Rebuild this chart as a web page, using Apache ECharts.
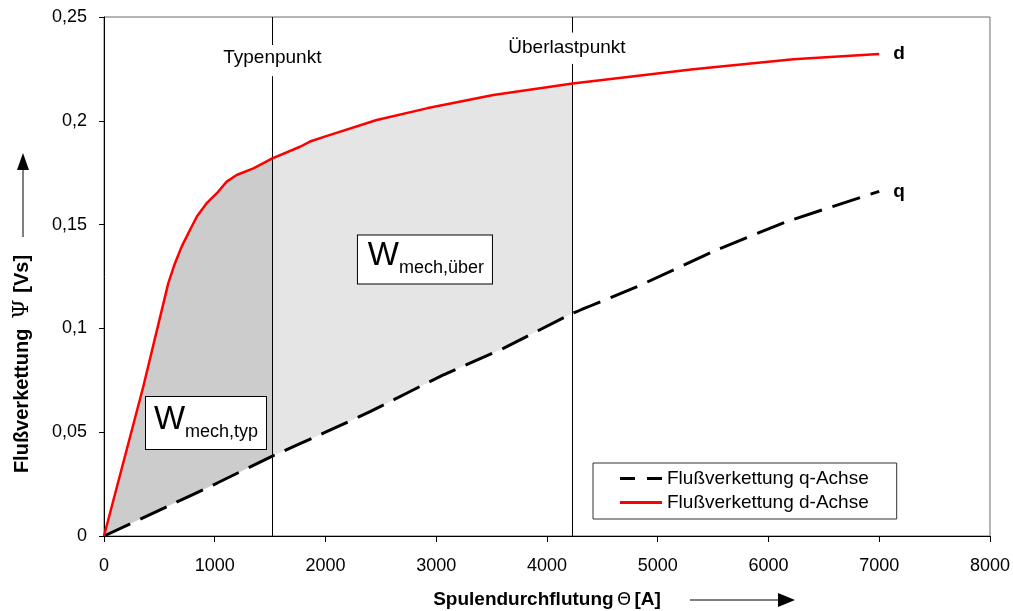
<!DOCTYPE html>
<html>
<head>
<meta charset="utf-8">
<script src="https://cdn.jsdelivr.net/npm/echarts@6/dist/echarts.min.js"></script>
<style>html,body{margin:0;padding:0;background:#fff}#c{width:1013px;height:611px}</style>
</head>
<body>
<div id="c"></div>
<script>
// ---- data ----
const thetaD = [0, 355, 580, 641, 701, 776, 840, 927, 1017, 1108, 1198, 1349, 1520, 1770, 1860, 2000, 2462, 2914, 3515, 4232, 5321, 6224, 7000];
const psiD   = [0, 0.072, 0.1217, 0.1314, 0.1394, 0.1474, 0.154, 0.1603, 0.165, 0.1707, 0.1739, 0.1771, 0.1819, 0.1875, 0.190, 0.1925, 0.2004, 0.206, 0.2124, 0.218, 0.2248, 0.2296, 0.2322];
const thetaQ = [0, 566, 1018, 1520, 2000, 2402, 3064, 3606, 4232, 4809, 5501, 6164, 7000];
const psiQ   = [0, 0.0141, 0.0254, 0.0385, 0.050, 0.0599, 0.0776, 0.0904, 0.1073, 0.120, 0.137, 0.1514, 0.166];
const markerTheta = [1520, 4232];           // Typenpunkt, Überlastpunkt
const markerNames = ['Typenpunkt', 'Überlastpunkt'];
const xTickLabels = ['0', '1000', '2000', '3000', '4000', '5000', '6000', '7000', '8000'];
const yTickLabels = ['0', '0,05', '0,1', '0,15', '0,2', '0,25'];
const seriesNames = ['Flußverkettung q-Achse', 'Flußverkettung d-Achse'];

const dPts = thetaD.map((x, i) => [x, psiD[i]]);
const qPts = thetaQ.map((x, i) => [x, psiQ[i]]);
const FONT = 'Liberation Sans';

const chart = echarts.init(document.getElementById('c'), null, {renderer: 'canvas'});
const option = {
  animation: false,
  textStyle: {fontFamily: FONT, color: '#000'},
  grid: {left: 104, right: 23, top: 17, bottom: 75, show: true, borderColor: '#6a6a6a', borderWidth: 1, backgroundColor: 'transparent'},
  xAxis: {
    type: 'value', min: 0, max: 8000, interval: 1000,
    axisLine: {onZero: false, lineStyle: {color: '#000', width: 1}},
    axisTick: {show: true, length: 6, lineStyle: {color: '#000'}},
    axisLabel: {color: '#000', fontSize: 18, fontFamily: FONT, margin: 21,
      formatter: v => xTickLabels[Math.round(v / 1000)]},
    splitLine: {show: false}
  },
  yAxis: {
    type: 'value', min: 0, max: 0.25, interval: 0.05,
    axisLine: {show: true, onZero: false, lineStyle: {color: '#000', width: 1}},
    axisTick: {show: true, length: 5, lineStyle: {color: '#000'}},
    axisLabel: {color: '#000', fontSize: 18, fontFamily: FONT, margin: 17,
      formatter: v => yTickLabels[Math.round(v / 0.05)]},
    splitLine: {show: false}
  },
  legend: {
    show: true, left: 593, top: 463, orient: 'vertical',
    backgroundColor: '#fff', borderColor: '#333', borderWidth: 1,
    padding: [6, 28, 7, 27], itemGap: 5, itemWidth: 42, itemHeight: 3,
    textStyle: {fontSize: 19, fontFamily: FONT, color: '#000'},
    data: [
      {name: seriesNames[0], icon: 'path://M0,0H15V3H0Z M27,0H42V3H27Z', itemStyle: {color: '#000'}},
      {name: seriesNames[1], icon: 'path://M0,0H42V3H0Z', itemStyle: {color: '#ff0000'}}
    ]
  },
  graphic: [
    {type: 'text', x: 22, y: 364, rotation: Math.PI / 2,
     style: {text: '{b|Flußverkettung}   {p|Ψ}  {b|[Vs]}', align: 'center', verticalAlign: 'middle',
       rich: {b: {fontSize: 20, fontWeight: 'bold', fontFamily: FONT, fill: '#000'},
              p: {fontSize: 22, fontFamily: 'DejaVu Serif', fill: '#000'}}}},
    {type: 'line', shape: {x1: 23, y1: 237, x2: 23, y2: 168}, style: {stroke: '#000', lineWidth: 1}},
    {type: 'polygon', shape: {points: [[17, 170], [29, 170], [23, 153]]}, style: {fill: '#000'}},
    {type: 'text', x: 547, y: 600,
     style: {text: '{b|Spulendurchflutung} {p|Θ} {b|[A]}', align: 'center', verticalAlign: 'middle',
       rich: {b: {fontSize: 19, fontWeight: 'bold', fontFamily: FONT, fill: '#000'},
              p: {fontSize: 18, fontFamily: 'DejaVu Sans', fill: '#000'}}}},
    {type: 'line', shape: {x1: 690, y1: 600, x2: 780, y2: 600}, style: {stroke: '#000', lineWidth: 1}},
    {type: 'polygon', shape: {points: [[778, 593], [778, 607], [795, 600]]}, style: {fill: '#000'}}
  ],
  series: [
    {
      type: 'custom', name: 'areas', silent: true, z: 1,
      data: [[0, markerTheta[0], 0], [markerTheta[0], markerTheta[1], 1]],
      encode: {x: [0, 1]},
      renderItem: function (params, api) {
        const x0 = api.value(0), x1 = api.value(1), k = api.value(2);
        const top = dPts.filter(p => p[0] >= x0 && p[0] <= x1).map(p => api.coord(p));
        const bot = qPts.filter(p => p[0] >= x0 && p[0] <= x1).reverse().map(p => api.coord(p));
        return {type: 'polygon', shape: {points: top.concat(bot)},
                style: {fill: k === 0 ? '#cccccc' : '#e5e5e5'}};
      }
    },
    {
      type: 'line', name: 'markers', silent: true, z: 2, data: [], symbol: 'none',
      markLine: {
        silent: true, symbol: 'none', animation: false,
        lineStyle: {color: '#000', width: 1, type: 'solid'}, label: {show: false},
        data: [
          [{coord: [markerTheta[0], 0]}, {coord: [markerTheta[0], 0.2215]}],
          [{coord: [markerTheta[0], 0.2365]}, {coord: [markerTheta[0], 0.25]}],
          [{coord: [markerTheta[1], 0]}, {coord: [markerTheta[1], 0.2274]}],
          [{coord: [markerTheta[1], 0.2425]}, {coord: [markerTheta[1], 0.25]}]
        ]
      }
    },
    {
      type: 'scatter', name: 'markerLabels', silent: true, z: 3, symbolSize: 0,
      itemStyle: {opacity: 1},
      data: [
        {value: [markerTheta[0], 0.2302], name: markerNames[0]},
        {value: [4180, 0.2350], name: markerNames[1]}
      ],
      label: {show: true, position: 'inside', formatter: p => p.name, fontSize: 19, fontFamily: FONT, color: '#000'}
    },
    {
      type: 'line', name: seriesNames[0], z: 4, data: qPts, symbol: 'none', smooth: 0.1,
      lineStyle: {color: '#000', width: 3, type: [29, 11]}, itemStyle: {color: '#000'},
      endLabel: {show: true, formatter: 'q', fontWeight: 'bold', fontSize: 19, fontFamily: FONT, color: '#000', distance: 14}
    },
    {
      type: 'line', name: seriesNames[1], z: 5, data: dPts, symbol: 'none', smooth: false,
      lineStyle: {color: '#ff0000', width: 2.5, join: 'round'}, itemStyle: {color: '#ff0000'},
      endLabel: {show: true, formatter: 'd', fontWeight: 'bold', fontSize: 19, fontFamily: FONT, color: '#000', distance: 14}
    },
    {
      type: 'scatter', name: 'boxes', silent: true, z: 6, symbolSize: 0,
      itemStyle: {opacity: 1},
      data: [
        {value: [921, 0.0544], label: {formatter: '{w|W}{s|mech,typ}', padding: [6, 10, 8, 10], width: 100}},
        {value: [2898, 0.1332], label: {formatter: '{w|W}{s|mech,über}', padding: [4, 10, 6, 12], width: 112}}
      ],
      label: {
        show: true, position: 'inside', backgroundColor: '#fff', borderColor: '#000', borderWidth: 1,
        align: 'center', verticalAlign: 'middle', opacity: 1,
        rich: {
          w: {fontSize: 33, fontFamily: FONT, color: '#000', lineHeight: 38, verticalAlign: 'top'},
          s: {fontSize: 18, fontFamily: FONT, color: '#000', lineHeight: 38, verticalAlign: 'bottom'}
        }
      }
    }
  ]
};
chart.setOption(option);
</script>
</body>
</html>
